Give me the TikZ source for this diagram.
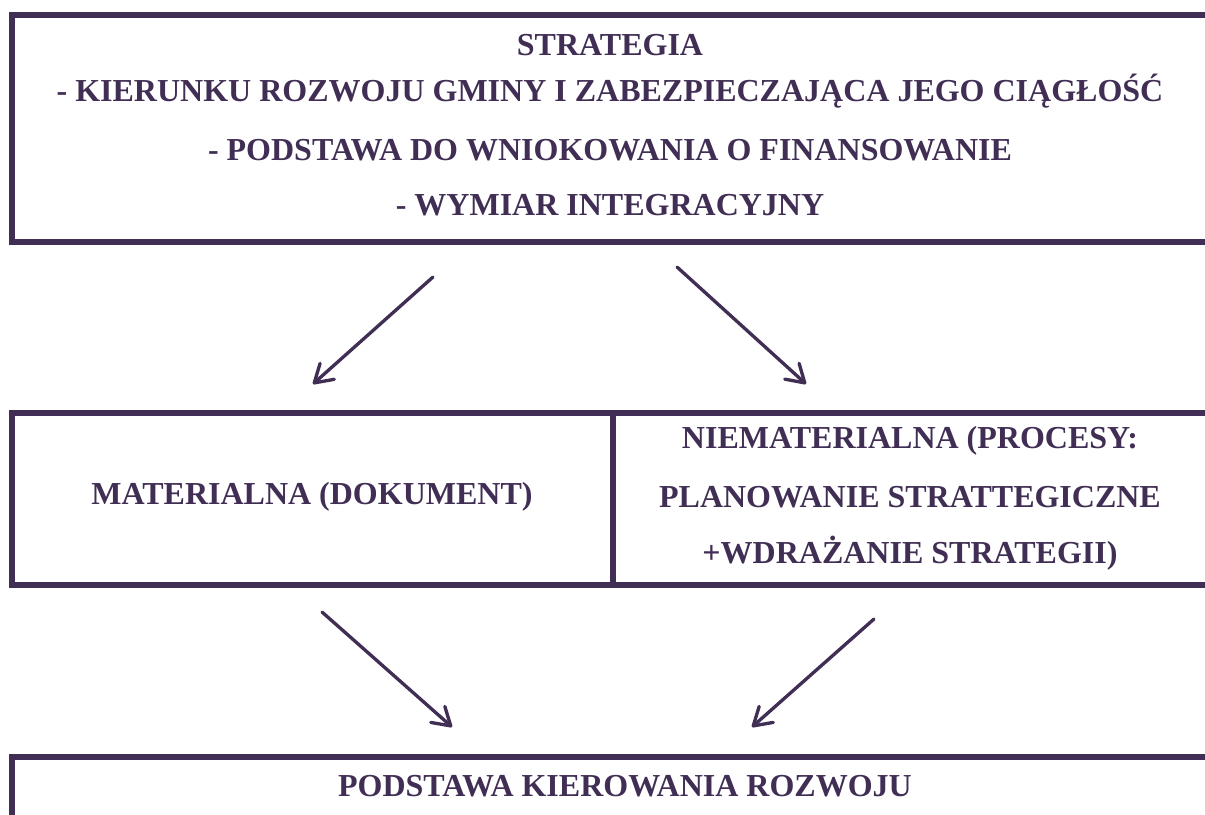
\documentclass[tikz,border=0pt]{standalone}
\usepackage{fontspec}
\setmainfont{Liberation Serif}
\usetikzlibrary{arrows.meta}
\definecolor{ink}{RGB}{64,46,84}
\tikzset{
  frame/.style={draw=ink, line width=4.5pt, line cap=rect},
  lbl/.style={text=ink, font=\fontsize{24}{28}\selectfont\bfseries, inner sep=0pt, anchor=center},
  flow/.style={draw=ink, line width=2.5pt, line cap=round,
    -{Straight Barb[length=13pt, width=16pt, line cap=round, line join=round]}}
}
\begin{document}
\begin{tikzpicture}[x=0.75pt, y=-0.75pt]
\useasboundingbox (0,0) rectangle (1205,814);
% frames
\draw[frame] (1210,15) -- (12,15) -- (12,242) -- (1210,242);
\draw[frame] (1210,413) -- (12,413) -- (12,585) -- (1210,585);
\draw[frame] (613,413) -- (613,585);
\draw[frame] (1210,757) -- (12,757) -- (12,820);
% texts
\node[lbl] (t1) at (610,45) {STRATEGIA};
\node[lbl] (t2) at (610,91) {- KIERUNKU ROZWOJU GMINY I ZABEZPIECZAJĄCA JEGO CIĄGŁOŚĆ};
\node[lbl] (t3) at (610,150) {- PODSTAWA DO WNIOKOWANIA O FINANSOWANIE};
\node[lbl] (t4) at (610,205) {- WYMIAR INTEGRACYJNY};
\node[lbl] (mat) at (312,497) {MATERIALNA (DOKUMENT)};
\node[lbl] (n1) at (910,441) {NIEMATERIALNA (PROCESY:};
\node[lbl] (n2) at (910,497) {PLANOWANIE STRATTEGICZNE};
\node[lbl] (n3) at (910,553) {+WDRAŻANIE STRATEGII)};
\node[lbl] (pod) at (625,786) {PODSTAWA KIEROWANIA ROZWOJU};
% arrow end points
\coordinate (a1s) at (433,277); \coordinate (a1e) at (313,384);
\coordinate (a2s) at (677,267); \coordinate (a2e) at (806,384);
\coordinate (a3s) at (322,612); \coordinate (a3e) at (452,727);
\coordinate (a4s) at (874,619); \coordinate (a4e) at (752,727);
\draw[flow] (a1s) -- (a1e);
\draw[flow] (a2s) -- (a2e);
\draw[flow] (a3s) -- (a3e);
\draw[flow] (a4s) -- (a4e);
\end{tikzpicture}
\end{document}
